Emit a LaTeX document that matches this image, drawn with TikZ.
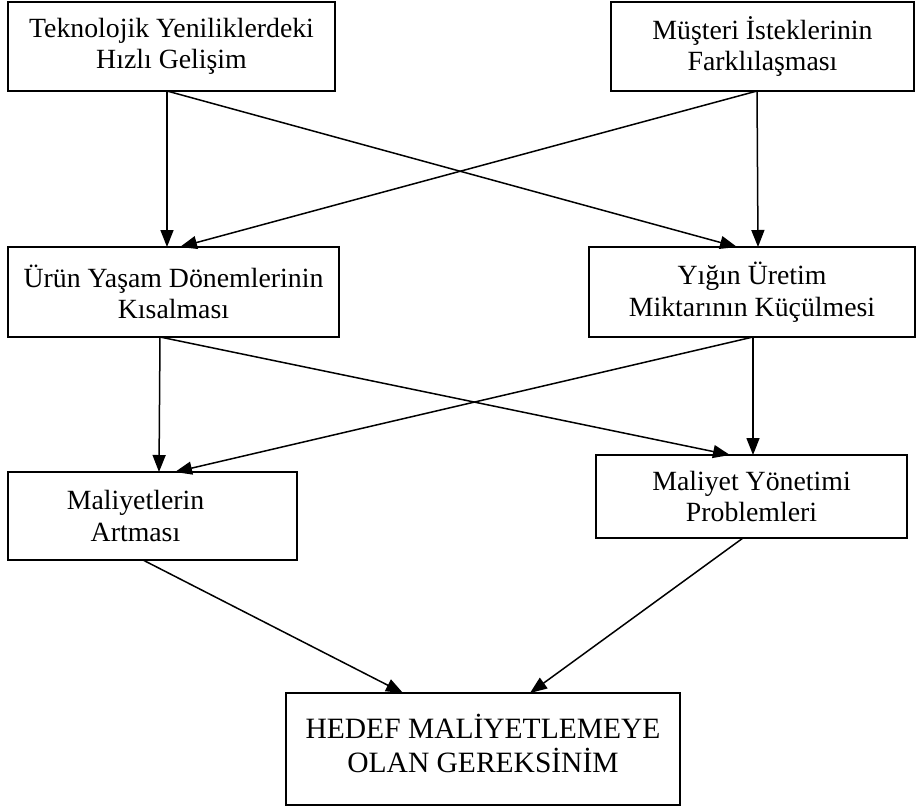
\documentclass[tikz,border=0pt]{standalone}
\usepackage{fontspec}
\setmainfont{Liberation Serif}
\usetikzlibrary{arrows.meta}
\begin{document}
\begin{tikzpicture}[x=1pt,y=-1pt,
  box/.style={draw=black,line width=1.6pt,inner sep=0pt,outer sep=0pt,fill=white},
  lbl/.style={align=center,font=\fontsize{27.8}{31.5}\selectfont},
  biglbl/.style={align=center,font=\fontsize{29.5}{34}\selectfont},
  arr/.style={draw=black,line width=1.5pt,-{Triangle[length=17pt,width=13pt]}}]
\useasboundingbox (0,0) rectangle (917,809);
% boxes
\node[box,minimum width=327pt,minimum height=89pt]  (b1) at (171.5,46.5) {};
\node[box,minimum width=303pt,minimum height=89pt]  (b2) at (762.5,46.5) {};
\node[box,minimum width=331pt,minimum height=90pt]  (b3) at (173.5,292) {};
\node[box,minimum width=326pt,minimum height=90pt]  (b4) at (752,292) {};
\node[box,minimum width=289pt,minimum height=88pt]  (b5) at (152.5,516) {};
\node[box,minimum width=311pt,minimum height=83pt]  (b6) at (751.5,496.5) {};
\node[box,minimum width=394pt,minimum height=112pt] (b7) at (483,749) {};
% texts
\node[lbl] (t1) at (b1) {Teknolojik Yeniliklerdeki\\Hızlı Gelişim};
\node[lbl] (t2) at (b2) {Müşteri İsteklerinin\\Farklılaşması};
\node[lbl] (t3) at (b3) {Ürün Yaşam Dönemlerinin\\Kısalması};
\node[lbl] (t4) at (b4) {Yığın Üretim\\Miktarının Küçülmesi};
\node[lbl] (t5) at ([xshift=-17pt]b5.center) {Maliyetlerin\\Artması};
\node[lbl] (t6) at (b6) {Maliyet Yönetimi\\Problemleri};
\node[biglbl] (t7) at ([yshift=6pt]b7.center) {HEDEF MALİYETLEMEYE\\OLAN GEREKSİNİM};
% connectors
\coordinate (s1) at ([xshift=159pt]b1.south west);
\coordinate (s2) at ([xshift=146pt]b2.south west);
\coordinate (s3) at ([xshift=152pt]b3.south west);
\coordinate (s4) at ([xshift=164pt]b4.south west);
\coordinate (s5) at ([xshift=135pt]b5.south west);
\coordinate (s6) at ([xshift=147pt]b6.south west);
\draw[arr] (s1) -- ([xshift=159pt]b3.north west);
\draw[arr] (s1) -- ([xshift=148pt]b4.north west);
\draw[arr] (s2) -- ([xshift=172pt]b3.north west);
\draw[arr] (s2) -- ([xshift=169pt]b4.north west);
\draw[arr] (s3) -- ([xshift=151pt]b5.north west);
\draw[arr] (s3) -- ([xshift=134pt]b6.north west);
\draw[arr] (s4) -- ([xshift=167pt]b5.north west);
\draw[arr] (s4) -- ([xshift=157pt]b6.north west);
\draw[arr] (s5) -- ([xshift=117pt]b7.north west);
\draw[arr] (s6) -- ([xshift=244pt]b7.north west);
\end{tikzpicture}
\end{document}
